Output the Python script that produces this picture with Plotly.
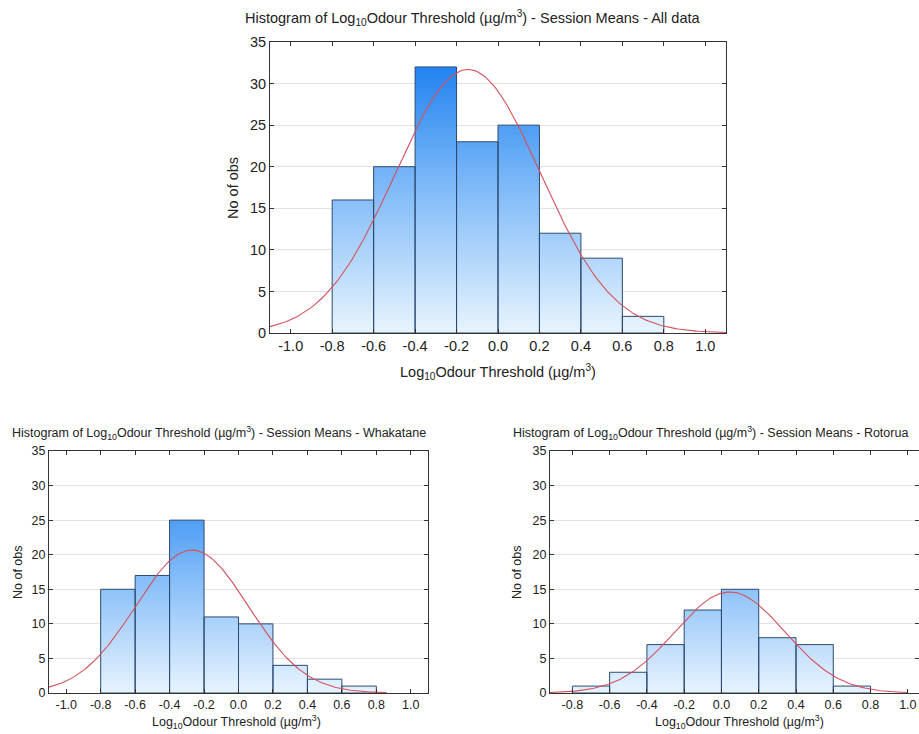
import math
import plotly.graph_objects as go

# Bin edges shared by all three histograms (log10 odour threshold, µg/m³)
bin_edges = [-0.8, -0.6, -0.4, -0.2, 0.0, 0.2, 0.4, 0.6, 0.8]

# Counts of session means per bin
counts_whakatane = [15, 17, 25, 11, 10, 4, 2, 1]
counts_rotorua = [1, 3, 7, 12, 15, 8, 7, 1]
counts_all = [16, 20, 32, 23, 25, 12, 9, 2]

# Fitted normal curves: mean, standard deviation, plotted x extent
fit_all = {"mean": -0.145, "sd": 0.35, "x_from": -1.1, "x_to": 1.1}
fit_whakatane = {"mean": -0.27, "sd": 0.328, "x_from": -1.1, "x_to": 0.86}
fit_rotorua = {"mean": 0.045, "sd": 0.295, "x_from": -0.92, "x_to": 1.0}

# Axis ticks
x_tickvals = [-1.0, -0.8, -0.6, -0.4, -0.2, 0.0, 0.2, 0.4, 0.6, 0.8, 1.0]
x_ticktext = ["-1.0", "-0.8", "-0.6", "-0.4", "-0.2", "0.0", "0.2", "0.4", "0.6", "0.8", "1.0"]
y_tickvals = [0, 5, 10, 15, 20, 25, 30, 35]

TITLE_BASE = "Histogram of Log<sub>10</sub>Odour Threshold (µg/m<sup>3</sup>) - Session Means - "
X_TITLE = "Log<sub>10</sub>Odour Threshold (µg/m<sup>3</sup>)"
Y_TITLE = "No of obs"

FONT = "Liberation Sans, Arial, sans-serif"
BAR_LINE = "#2b4a72"
CURVE = "#d4505e"
GRADIENT = [[0.0, "#e8f4fe"], [0.5, "#7fbaf8"], [1.0, "#0f78f0"]]

fig = go.Figure()


def bar_outline(edges, counts):
    xs, ys = [], []
    for i, c in enumerate(counts):
        x0, x1 = edges[i], edges[i + 1]
        xs += [x0, x0, x1, x1, x0, None]
        ys += [0, c, c, 0, 0, None]
    return xs, ys


def normal_curve(edges, counts, fit, n=200):
    total = sum(counts)
    width = edges[1] - edges[0]
    xs, ys = [], []
    for k in range(n + 1):
        x = fit["x_from"] + (fit["x_to"] - fit["x_from"]) * k / n
        z = (x - fit["mean"]) / fit["sd"]
        ys.append(total * width * math.exp(-0.5 * z * z) / (fit["sd"] * math.sqrt(2 * math.pi)))
        xs.append(x)
    return xs, ys


panels = [
    ("x", "y", counts_all, fit_all),
    ("x2", "y2", counts_whakatane, fit_whakatane),
    ("x3", "y3", counts_rotorua, fit_rotorua),
]

for xa, ya, counts, fit in panels:
    bx, by = bar_outline(bin_edges, counts)
    fig.add_trace(go.Scatter(
        x=bx, y=by, xaxis=xa, yaxis=ya, mode="lines", fill="toself",
        fillgradient=dict(type="vertical", colorscale=GRADIENT, start=0, stop=35),
        line=dict(color=BAR_LINE, width=1), hoverinfo="skip", showlegend=False,
    ))
    cx, cy = normal_curve(bin_edges, counts, fit)
    fig.add_trace(go.Scatter(
        x=cx, y=cy, xaxis=xa, yaxis=ya, mode="lines",
        line=dict(color=CURVE, width=1.1), hoverinfo="skip", showlegend=False,
    ))


def x_axis(domain, rng, anchor, size):
    return dict(
        domain=domain, range=rng, anchor=anchor, automargin=False,
        tickmode="array", tickvals=x_tickvals, ticktext=x_ticktext,
        ticks="inside", ticklen=4, tickcolor="#333", mirror="ticks",
        showline=True, linecolor="#333", linewidth=1,
        showgrid=False, zeroline=False, ticklabeloverflow="allow",
        tickfont=dict(size=size, color="#222", family=FONT),
    )


def y_axis(domain, anchor, size):
    return dict(
        domain=domain, range=[0, 35], anchor=anchor, automargin=False,
        tickmode="array", tickvals=y_tickvals,
        ticks="inside", ticklen=4, tickcolor="#333", mirror="ticks",
        showline=True, linecolor="#333", linewidth=1,
        showgrid=True, gridcolor="#e3e3e3", gridwidth=1, zeroline=False,
        tickfont=dict(size=size, color="#222", family=FONT),
    )


W, H = 919, 734
top_x = [270 / W, 726 / W]
top_y = [(H - 333) / H, (H - 42) / H]
bl_x = [49 / W, 428 / W]
br_x = [550 / W, 1.0]
bot_y = [(H - 693) / H, (H - 451) / H]

fig.update_layout(
    width=W, height=H,
    margin=dict(l=0, r=0, t=0, b=0),
    paper_bgcolor="white", plot_bgcolor="white",
    font=dict(family=FONT, color="#222"),
    xaxis=x_axis(top_x, [-1.1, 1.1], "y", 14.5),
    yaxis=y_axis(top_y, "x", 14.5),
    xaxis2=x_axis(bl_x, [-1.1, 1.1], "y2", 12.5),
    yaxis2=y_axis(bot_y, "x2", 12.5),
    xaxis3=x_axis(br_x, [-0.92, 1.06], "y3", 12.5),
    yaxis3=y_axis(bot_y, "x3", 12.5),
)

annotations = [
    # panel titles
    dict(text=TITLE_BASE + "All data", x=473 / W, y=(H - 18) / H, size=14.5, xanchor="center"),
    dict(text=TITLE_BASE + "Whakatane", x=10 / W, y=(H - 433) / H, size=12.5, xanchor="left"),
    dict(text=TITLE_BASE + "Rotorua", x=511 / W, y=(H - 433) / H, size=12.5, xanchor="left"),
    # x-axis titles
    dict(text=X_TITLE, x=498 / W, y=(H - 372) / H, size=14.5, xanchor="center"),
    dict(text=X_TITLE, x=237 / W, y=(H - 722) / H, size=12.5, xanchor="center"),
    dict(text=X_TITLE, x=739 / W, y=(H - 722) / H, size=12.5, xanchor="center"),
]
for a in annotations:
    fig.add_annotation(
        text=a["text"], x=a["x"], y=a["y"], xref="paper", yref="paper",
        xanchor=a["xanchor"], yanchor="middle", showarrow=False,
        font=dict(size=a["size"], color="#222", family=FONT),
    )

# y-axis titles, rotated
for xpos, ypos, size in [(233, 188, 14.5), (18, 572, 12.5), (517, 572, 12.5)]:
    fig.add_annotation(
        text=Y_TITLE, x=xpos / W, y=(H - ypos) / H, xref="paper", yref="paper",
        xanchor="center", yanchor="middle", textangle=-90, showarrow=False,
        font=dict(size=size, color="#222", family=FONT),
    )

fig.write_html("out.html")
